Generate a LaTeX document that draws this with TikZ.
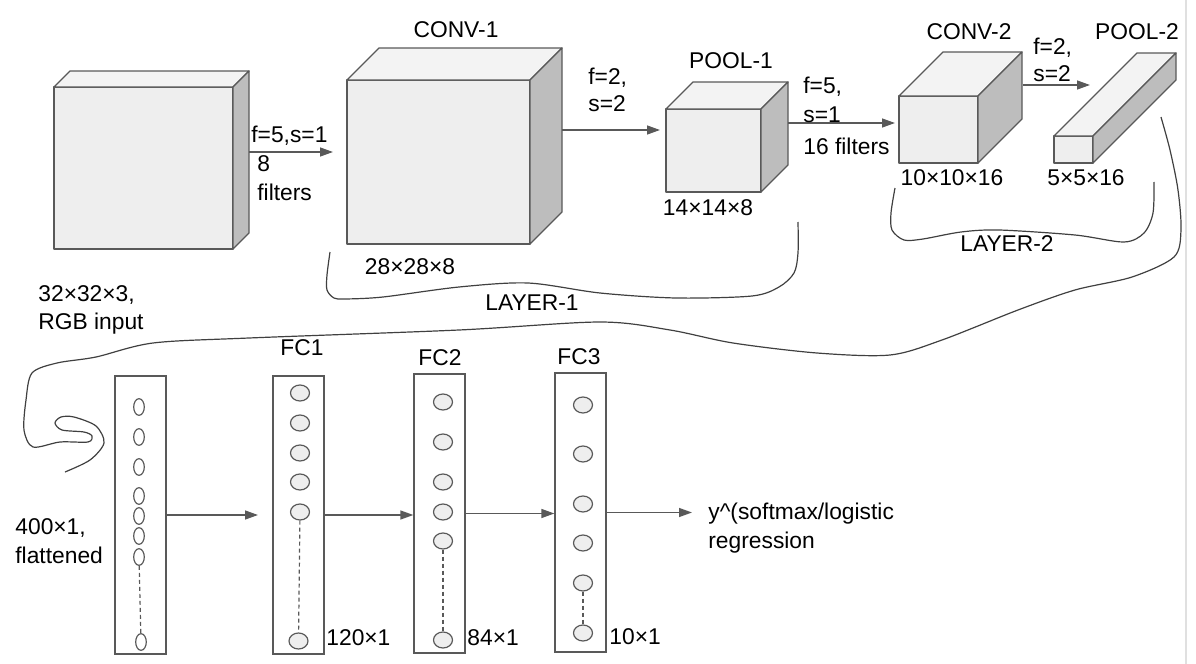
\documentclass[tikz,border=0pt]{standalone}
\usepackage{fontspec}
\setmainfont{Liberation Sans}
\usepackage{tikz}
\usetikzlibrary{arrows.meta,shapes.geometric}
\definecolor{edge}{HTML}{595959}
\definecolor{front}{HTML}{EEEEEE}
\definecolor{cubetop}{HTML}{F3F3F3}
\definecolor{side}{HTML}{BDBDBD}

\begin{document}
\begin{tikzpicture}[x=0.5pt, y=-0.5pt, font=\fontsize{11.4}{13.2}\selectfont]
\tikzstyle{face}=[draw=edge, line width=0.65pt, line join=round]
\tikzstyle{arrow}=[draw=edge, line width=0.7pt, -{Triangle[length=6.5pt,width=4.5pt]}]
\tikzstyle{lbl}=[inner sep=0pt, align=left]
\tikzstyle{col}=[draw=edge, line width=0.65pt, minimum width=25.5pt, inner sep=0pt]
\tikzstyle{unit}=[ellipse, draw=edge, fill=front, line width=0.6pt, minimum width=9.5pt, minimum height=8pt, inner sep=0pt]
\tikzstyle{flat}=[ellipse, draw=edge, fill=white, line width=0.6pt, minimum width=5.3pt, minimum height=8.3pt, inner sep=0pt]
\tikzstyle{dots}=[draw=edge, line width=0.6pt, dash pattern=on 2pt off 1.5pt]
\tikzstyle{brace}=[draw=black!75, line width=0.6pt]
\useasboundingbox (0,0) rectangle (1196,664);
\draw[black!12, line width=0.8pt] (1186,0) -- (1186,664);

% volumes
\foreach \n/\x/\y/\w/\h/\d in {IN/54/87/179/162/16, C1/347/80/183/164/32, P1/666/109/95/83/27, C2/899/96/79/67/44, P2/1054/136/39/27/83}{
  \path[face, fill=front] (\x,\y) rectangle ++(\w,\h);
  \path[face, fill=cubetop] (\x,\y) -- ++(\d,-\d) -- ++(\w,0) -- ++(-\d,\d) -- cycle;
  \path[face, fill=side] (\x+\w,\y) -- ++(\d,-\d) -- ++(0,\h) -- ++(-\d,\d) -- cycle;
}
\coordinate (IN-o) at (249,152);
\coordinate (C1-i) at (333,152);
\coordinate (C1-o) at (562,130);
\coordinate (P1-i) at (660,130);
\coordinate (P1-o) at (788,123);
\coordinate (C2-i) at (895,123);
\coordinate (C2-o) at (1023,85);
\coordinate (P2-i) at (1090,85);
\draw [arrow] (IN-o) -- (C1-i);
\draw [arrow] (C1-o) -- (P1-i);
\draw [arrow] (P1-o) -- (C2-i);
\draw [arrow] (C2-o) -- (P2-i);

\node (tC1) at (456,30) {CONV-1};
\node (tP1) at (731,61) {POOL-1};
\node (tC2) at (969,32) {CONV-2};
\node (tP2) at (1137,32) {POOL-2};
\node (dIN) [lbl, anchor=west] at (38,310) {32×32×3,\\[1pt]RGB input};
\node (dC1) at (410,267) {28×28×8};
\node (dP1) at (708,208) {14×14×8};
\node (dC2) at (952,178) {10×10×16};
\node (dP2) at (1086,178) {5×5×16};
\node (a1) [lbl, anchor=west] at (251,136) {f=5,s=1};
\node (a1b) [lbl, anchor=west] at (257,178) {8\\[1pt]filters};
\node (a2) [lbl, anchor=west] at (588,90) {f=2,\\s=2};
\node (a3) [lbl, anchor=west] at (803,100) {f=5,\\[1pt]s=1};
\node (a3b) [lbl, anchor=west] at (803,146) {16 filters};
\node (a4) [lbl, anchor=west] at (1033,60) {f=2,\\s=2};

% braces
\draw [brace] plot[smooth] coordinates {(330,252) (327,275) (327,290) (334,298) (345,299) (383,297) (459,287) (528,283) (600,293) (676,298) (752,296) (779,287) (794,273) (798,253) (798,222)};
\node (L1) at (532,303) {LAYER-1};
\draw [brace] plot[smooth] coordinates {(895,188) (891,213) (892,230) (904,240) (923,239) (961,232) (999,230) (1075,235) (1124,242) (1144,233) (1153,213) (1154,182)};
\node (L2) at (1007,244) {LAYER-2};
\draw [brace] plot[smooth] coordinates {(1161,117) (1170,150) (1178,190) (1181,230) (1174,257) (1132,277) (1075,290) (1018,310) (942,340) (890,355) (817,353) (733,343) (670,330) (600,322) (459,330) (249,338) (153,343) (96,357) (57,363) (32,373) (26,400) (24,430) (33,447) (60,442) (88,442) (92,436) (84,432) (62,430) (55,423) (61,417) (74,417) (96,426) (104,443) (90,460) (65,472)};

% dense part
\node (FL) [col, minimum height=139pt] at (140.5,515) {};
\node (F1) [col, minimum height=139pt] at (298.5,515) {};
\node (F2) [col, minimum height=139.5pt] at (439.5,513.5) {};
\node (F3) [col, minimum height=139.5pt] at (580.5,512.5) {};
\foreach \y [count=\i] in {407,437,467,496,516,536,557}
  \node (FL-\i) [flat] at (139,\y) {};
\node (FL-8) [flat] at (141,642) {};
\foreach \y [count=\i] in {393,423,453,482,512}
  \node (F1-\i) [unit] at (300,\y) {};
\node (F1-6) [unit] at (298.5,641) {};
\foreach \y [count=\i] in {402,442,482,512,541}
  \node (F2-\i) [unit] at (443,\y) {};
\node (F2-6) [unit] at (443,640) {};
\foreach \y [count=\i] in {405,454,504,543,583}
  \node (F3-\i) [unit] at (583,\y) {};
\node (F3-6) [unit] at (583,633) {};
\draw [dots] (FL-7) -- (FL-8);
\draw [dots] (F1-5) -- (F1-6);
\draw [dots] (F2-5) -- (F2-6);
\draw [dots] (F3-5) -- (F3-6);

\node (tF1) at (302,348) {FC1};
\node (tF2) at (440,358) {FC2};
\node (tF3) at (579,357) {FC3};
\node (dFL) [lbl, anchor=west] at (15,541) {400×1,\\[1pt]flattened};
\node (dF1) [lbl, anchor=west] at (326,638) {120×1};
\node (dF2) [lbl, anchor=west] at (467,638) {84×1};
\node (dF3) [lbl, anchor=west] at (609,637) {10×1};
\node (Y) [lbl, anchor=west] at (708,528) {y\textasciicircum(softmax/logistic\\[1pt]regression};

\coordinate (F1-in) at (258,515);
\coordinate (Y-in) at (692,512.5);
\draw [arrow] (FL.east) -- (F1-in);
\draw [arrow] (F1.east) -- (F1.east -| F2.west);
\draw [arrow] (F2.east) -- (F2.east -| F3.west);
\draw [arrow] (F3.east) -- (Y-in);
\end{tikzpicture}
\end{document}
